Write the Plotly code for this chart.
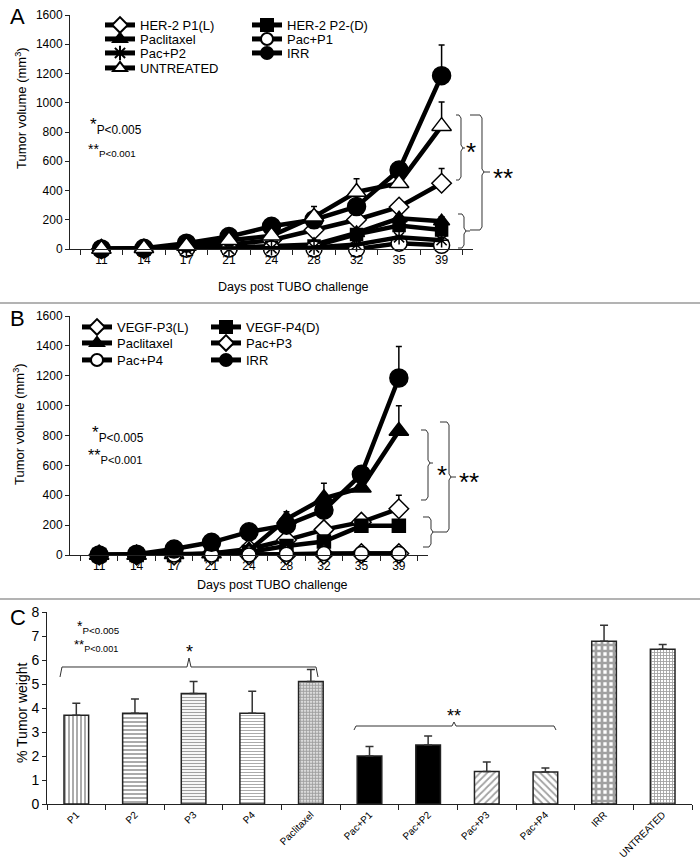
import plotly.graph_objects as go

W, H = 700, 861
def px(x): return x / W
def py(y): return 1 - y / H

FONT = "Liberation Sans, Arial, sans-serif"

# ---------------- data ----------------
days = ["11", "14", "17", "21", "24", "28", "32", "35", "39"]

# Panel A
a_her2_p1 = [0, 0, 10, 30, 60, 130, 200, 287, 450]
a_her2_p1_err = [0, 0, 0, 0, 0, 0, 0, 30, 100]
a_her2_p2 = [0, 0, 0, 5, 10, 20, 100, 160, 130]
a_her2_p2_err = [0, 0, 0, 0, 0, 0, 0, 20, 20]
a_pacl = [0, 0, 5, 10, 20, 30, 110, 210, 190]
a_pacl_err = [0, 0, 0, 0, 0, 0, 0, 20, 30]
a_pac_p1 = [0, 0, 0, 0, 0, 0, 0, 40, 25]
a_pac_p1_err = [0, 0, 0, 0, 0, 0, 0, 0, 0]
a_pac_p2 = [0, 0, 0, 0, 5, 10, 30, 80, 60]
a_pac_p2_err = [0, 0, 0, 0, 0, 0, 0, 0, 0]
a_irr = [0, 5, 40, 85, 155, 200, 290, 540, 1185]
a_irr_err = [0, 0, 0, 0, 0, 20, 0, 50, 210]
a_untr = [0, 5, 20, 60, 90, 220, 390, 450, 840]
a_untr_err = [0, 0, 0, 0, 0, 70, 90, 30, 165]

# Panel B
b_vegf_p3 = [0, 0, 0, 10, 40, 100, 170, 220, 310]
b_vegf_p3_err = [0, 0, 0, 0, 0, 0, 0, 0, 90]
b_vegf_p4 = [0, 0, 0, 5, 20, 60, 90, 195, 195]
b_vegf_p4_err = [0, 0, 0, 0, 0, 0, 0, 0, 0]
b_pacl = [0, 0, 5, 10, 30, 240, 380, 450, 830]
b_pacl_err = [0, 0, 0, 0, 0, 50, 100, 40, 170]
b_pac_p3 = [0, 0, 0, 0, 0, 0, 5, 10, 10]
b_pac_p3_err = [0, 0, 0, 0, 0, 0, 0, 0, 0]
b_pac_p4 = [0, 0, 0, 0, 0, 5, 10, 10, 10]
b_pac_p4_err = [0, 0, 0, 0, 0, 0, 0, 0, 0]
b_irr = [0, 5, 40, 85, 155, 200, 300, 540, 1185]
b_irr_err = [0, 0, 0, 0, 0, 0, 0, 50, 210]

# Panel C
c_groups = ["P1", "P2", "P3", "P4", "Paclitaxel", "Pac+P1", "Pac+P2",
            "Pac+P3", "Pac+P4", "IRR", "UNTREATED"]
c_weight = [3.7, 3.78, 4.6, 3.78, 5.1, 2.0, 2.46, 1.35, 1.33, 6.78, 6.45]
c_err = [0.5, 0.59, 0.5, 0.92, 0.5, 0.4, 0.37, 0.4, 0.17, 0.67, 0.2]

y_ticks_ab = [0, 200, 400, 600, 800, 1000, 1200, 1400, 1600]
y_ticks_c = [0, 1, 2, 3, 4, 5, 6, 7, 8]

# ---------------- figure ----------------
fig = go.Figure()

def add_series(name, y, err, sym, size, fill, xa, ya, legend, lw=4.5):
    fig.add_trace(go.Scatter(
        x=days, y=y, name=name, mode="lines+markers",
        xaxis=xa, yaxis=ya, legend=legend,
        line=dict(color="black", width=lw),
        marker=dict(symbol=sym, size=size, color=fill,
                    line=dict(color="black", width=1.5)),
        error_y=dict(type="data", array=err, arrayminus=[0] * len(err),
                     symmetric=False, color="black", thickness=1.5, width=3),
        cliponaxis=False,
    ))

# Panel A (legend rows)
add_series("HER-2 P1(L)", a_her2_p1, a_her2_p1_err, "diamond", 15, "white", "x", "y", "legend")
add_series("HER-2 P2-(D)", a_her2_p2, a_her2_p2_err, "square", 12, "black", "x", "y", "legend")
add_series("Paclitaxel", a_pacl, a_pacl_err, "triangle-up", 14, "black", "x", "y", "legend2")
add_series("Pac+P1", a_pac_p1, a_pac_p1_err, "circle", 16, "white", "x", "y", "legend2")
add_series("Pac+P2", a_pac_p2, a_pac_p2_err, "asterisk-open", 12, "black", "x", "y", "legend3")
add_series("IRR", a_irr, a_irr_err, "circle", 18, "black", "x", "y", "legend3")
add_series("UNTREATED", a_untr, a_untr_err, "triangle-up", 17, "white", "x", "y", "legend4")

# Panel B
add_series("VEGF-P3(L)", b_vegf_p3, b_vegf_p3_err, "diamond", 15, "white", "x2", "y2", "legend5")
add_series("VEGF-P4(D)", b_vegf_p4, b_vegf_p4_err, "square", 13, "black", "x2", "y2", "legend5")
add_series("Paclitaxel", b_pacl, b_pacl_err, "triangle-up", 17, "black", "x2", "y2", "legend6")
add_series("Pac+P3", b_pac_p3, b_pac_p3_err, "diamond", 15, "white", "x2", "y2", "legend6")
add_series("Pac+P4", b_pac_p4, b_pac_p4_err, "circle", 14, "white", "x2", "y2", "legend7")
add_series("IRR", b_irr, b_irr_err, "circle", 18, "black", "x2", "y2", "legend7")

# Panel C bars
pat_shapes = ["|", "-", "-", "-", ".", "", "", "/", "\\", "+", "+"]
pat_fg = ["#444", "#333", "#555", "#777", "#444", "black", "black", "black", "black", "black", "#444"]
pat_size = [4, 4, 3, 3, 3, 4, 4, 5, 5, 6, 3]
pat_sol = [0.45, 0.45, 0.4, 0.3, 0.7, 0.3, 0.3, 0.35, 0.35, 0.7, 0.5]
bar_fill = ["white", "white", "white", "white", "white", "black", "black",
            "white", "white", "white", "white"]
fig.add_trace(go.Bar(
    x=c_groups, y=c_weight, xaxis="x3", yaxis="y3", showlegend=False,
    width=0.42,
    marker=dict(color=bar_fill, line=dict(color="#222", width=1.5),
                pattern=dict(shape=pat_shapes, fgcolor=pat_fg, size=pat_size,
                             solidity=pat_sol, bgcolor=bar_fill)),
    error_y=dict(type="data", array=c_err, arrayminus=[0] * len(c_err),
                 symmetric=False, color="#333", thickness=1.5, width=4),
))

# ---------------- axes ----------------
axis_common = dict(showgrid=False, zeroline=False, showline=True, automargin=False,
                   linecolor="#222", linewidth=1, ticks="outside",
                   tickcolor="#222")
tf12 = dict(family=FONT, size=12, color="black")

fig.update_layout(
    xaxis=dict(domain=[px(70), px(473)], anchor="y", type="category",
               categoryorder="array", categoryarray=days, tickson="boundaries",
               ticklen=5, tickfont=tf12, **axis_common),
    yaxis=dict(domain=[py(249), py(15)], anchor="x", range=[0, 1600],
               tickvals=y_ticks_ab, ticklen=4, tickfont=tf12, **axis_common),
    xaxis2=dict(domain=[px(70), px(428)], anchor="y2", type="category",
                categoryorder="array", categoryarray=days, tickson="boundaries",
                ticklen=5, tickfont=tf12, **axis_common),
    yaxis2=dict(domain=[py(555), py(316)], anchor="x2", range=[0, 1600],
                tickvals=y_ticks_ab, ticklen=4, tickfont=tf12, **axis_common),
    xaxis3=dict(domain=[px(47), px(692)], anchor="y3", type="category",
                categoryorder="array", categoryarray=c_groups, tickson="boundaries",
                ticklen=5, tickangle=-45,
                tickfont=dict(family=FONT, size=10, color="black"),
                **axis_common),
    yaxis3=dict(domain=[py(804), py(612)], anchor="x3", range=[0, 8],
                tickvals=y_ticks_c, ticklen=4,
                tickfont=dict(family=FONT, size=14, color="black"),
                **axis_common),
)

# ---------------- legends (one per row) ----------------
def leg(x, y, ew, size=13):
    return dict(orientation="h", x=px(x), y=py(y), xanchor="left", yanchor="middle",
                bgcolor="rgba(0,0,0,0)", borderwidth=0, itemwidth=30,
                entrywidth=ew, entrywidthmode="pixels", itemsizing="constant",
                font=dict(family=FONT, size=size, color="black"), itemclick=False,
                itemdoubleclick=False)

fig.update_layout(
    legend=leg(100, 25, 102),
    legend2=leg(100, 39, 102),
    legend3=leg(100, 53, 102),
    legend4=leg(100, 68, 102),
    legend5=leg(77, 327, 84),
    legend6=leg(77, 343, 84),
    legend7=leg(77, 360, 84),
)

# ---------------- annotations & shapes ----------------
ann = []
def text(x, y, t, size=12, xanchor="center", angle=0):
    ann.append(dict(x=px(x), y=py(y), xref="paper", yref="paper", text=t,
                    showarrow=False, xanchor=xanchor, yanchor="middle", textangle=angle,
                    font=dict(family=FONT, size=size, color="black")))

text(8, 17, "A", 22, "left")
text(8, 318, "B", 22, "left")
text(8, 617, "C", 22, "left")

# axis titles
text(293, 287, "Days post TUBO challenge", 12.5)
text(272, 585, "Days post TUBO challenge", 12.5)
text(21, 108, "Tumor volume (mm<sup>3</sup>)", 13, angle=-90)
text(19, 424, "Tumor volume (mm<sup>3</sup>)", 13, angle=-90)
text(22, 713, "% Tumor weight", 14, angle=-90)

# p-value keys
text(88, 126, "*<sub>P&lt;0.005</sub>", 17, "left")
text(86, 150, "**<sub>P&lt;0.001</sub>", 14, "left")
text(90, 434, "*<sub>P&lt;0.005</sub>", 17, "left")
text(86, 456, "**<sub>P&lt;0.001</sub>", 16, "left")
text(75, 627, "*<sub>P&lt;0.005</sub>", 14, "left")
text(72, 645, "**<sub>P&lt;0.001</sub>", 13, "left")

text(471, 152, "*", 26, "center")
text(503, 178, "**", 26, "center")
text(442, 475, "*", 26, "center")
text(469, 482, "**", 26, "center")
text(189, 652, "*", 18, "center")
text(454, 716, "**", 18, "center")

shapes = []
def path(pts, color="#333", w=1):
    d = "M " + " L ".join(f"{px(x):.5f},{py(y):.5f}" for x, y in pts)
    shapes.append(dict(type="path", path=d, xref="paper", yref="paper",
                       line=dict(color=color, width=w)))

def rbrace(xl, xv, xt, ytop, ybot, ymid):
    path([(xl, ytop), (xv - 2, ytop), (xv, ytop + 3), (xv, ymid - 3),
          (xv + 2, ymid), (xt, ymid)])
    path([(xv + 2, ymid), (xv, ymid + 3), (xv, ybot - 3), (xv - 2, ybot), (xl, ybot)])

# panel A brackets
rbrace(456, 461, 465, 115, 180, 148)
rbrace(470, 482, 490, 115, 230, 172)
rbrace(458, 464, 470, 214, 248, 231)
# panel B brackets
rbrace(421, 428, 433, 430, 500, 463)
rbrace(440, 449, 456, 422, 532, 477)
rbrace(423, 431, 440, 517, 547, 532)

# panel C horizontal brackets
def hbrace(x0, x1, y, yend, xm, ypeak):
    path([(x0, yend), (x0 + 2, y), (xm - 2, y), (xm, ypeak), (xm + 2, y), (x1 - 2, y), (x1, yend)])
hbrace(60, 318, 667, 677, 189, 658)
hbrace(354, 556, 726, 730, 454, 722)

# separators
for ysep in (303, 599):
    shapes.append(dict(type="line", xref="paper", yref="paper", x0=0, x1=1,
                       y0=py(ysep), y1=py(ysep), line=dict(color="#9a9a9a", width=1.5)))

fig.update_layout(
    annotations=ann, shapes=shapes,
    width=W, height=H, margin=dict(l=0, r=0, t=0, b=0),
    paper_bgcolor="white", plot_bgcolor="white",
    font=dict(family=FONT, color="black"),
    bargap=0.5,
)

fig.write_html("out.html", config={"displayModeBar": False},
               post_script="document.body.style.margin='0';document.body.style.padding='0';")
